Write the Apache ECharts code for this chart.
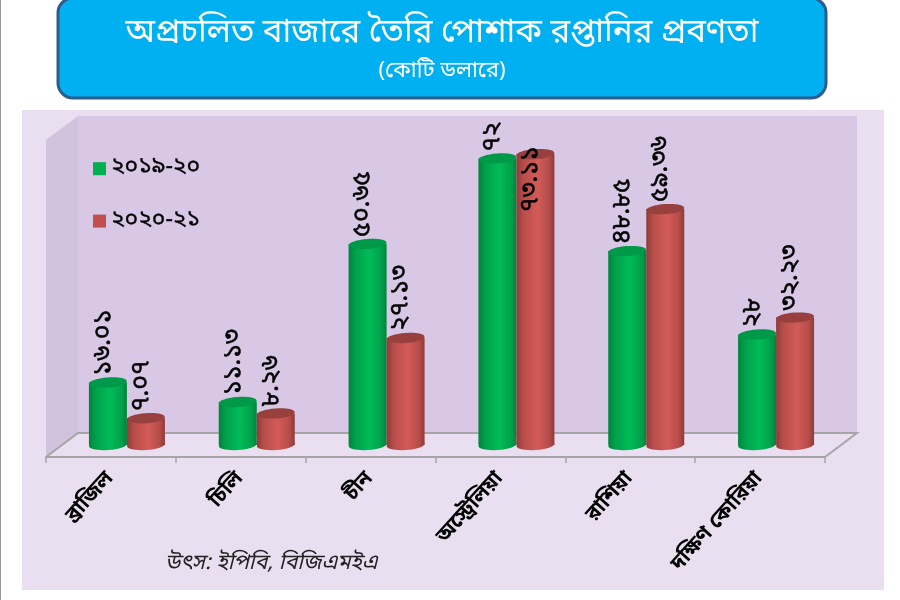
<!DOCTYPE html>
<html><head><meta charset="utf-8">
<style>html,body{margin:0;padding:0;background:#fff}#c{width:900px;height:600px}</style>
<script src="https://cdn.jsdelivr.net/npm/echarts@6/dist/echarts.min.js"></script>
</head><body><div id="c"></div>
<script>
const titleText = 'অপ্রচলিত বাজারে তৈরি পোশাক রপ্তানির প্রবণতা';
const subtitleText = '(কোটি ডলারে)';
const sourceText = 'উৎস: ইপিবি, বিজিএমইএ';
const categories = ['ব্রাজিল','চিলি','চীন','অস্ট্রেলিয়া','রাশিয়া','দক্ষিণ কোরিয়া'];
const seriesNames = ['২০১৯-২০','২০২০-২১'];
const values1920 = [16.01,11.13,50.65,72,48.85,28];
const values2021 = [7.07,8.26,27.13,73.11,59.36,32.23];
const labels1920 = ['১৬.০১','১১.১৩','৫০.৬৫','৭২','৪৮.৮৫','২৮'];
const labels2021 = ['৭.০৭','৮.২৬','২৭.১৩','৭৩.১১','৫৯.৩৬','৩২.২৩'];

const FONT = '"Noto Sans Bengali","Noto Serif Bengali","Lohit Bengali","Noto Sans",sans-serif';
const G = {l:46,r:825,t:137,b:457};
const DEPTH = {x:32,y:24};
const BAR_W = 38, RY = 5;
const chart = echarts.init(document.getElementById('c'));

function cyl(stops, topFill, labels, side){
  return function(params, api){
    const i = api.value(0), v = api.value(1);
    const c = api.coord([i, v]), b = api.coord([i, 0]);
    const dx = DEPTH.x/2, dy = DEPTH.y/2 - 1.5;
    const x = b[0] + dx + side*BAR_W/2, yb = b[1]-dy-1.5, yt = c[1]-dy;
    const grad = {type:'linear',x:0,y:0,x2:1,y2:0,colorStops:stops};
    const tilt = 0.07;
    const hi = v > 73;
    return {type:'group',children:[
      {type:'ellipse',x:x,y:yb,rotation:tilt,shape:{cx:0,cy:0,rx:BAR_W/2,ry:RY},style:{fill:grad}},
      {type:'rect',shape:{x:x-BAR_W/2,y:yt,width:BAR_W,height:yb-yt},style:{fill:grad}},
      {type:'ellipse',x:x,y:yt,rotation:tilt,shape:{cx:0,cy:0,rx:BAR_W/2,ry:RY},style:{fill:topFill}},
      {type:'text',x:x-3,y:hi?yt+58:yt-7,rotation:Math.PI/2,
       style:{text:labels[params.dataIndex],fill:'#000',stroke:'#000',lineWidth:0.5,fontFamily:FONT,fontSize:25,align:'left',verticalAlign:'middle'}}
    ]};
  };
}
const green = [{offset:0,color:'#00843C'},{offset:.18,color:'#00A14B'},{offset:.55,color:'#00BC58'},{offset:.85,color:'#00A14B'},{offset:1,color:'#00843C'}];
const red = [{offset:0,color:'#8E3B38'},{offset:.18,color:'#B74D4A'},{offset:.55,color:'#D35B58'},{offset:.85,color:'#B74D4A'},{offset:1,color:'#8E3B38'}];

chart.setOption({
  animation:false,
  backgroundColor:'#fff',
  legend:{show:true,orient:'vertical',left:88,top:152,itemWidth:13,itemHeight:13,itemGap:29,icon:'rect',
    data:seriesNames,textStyle:{fontFamily:FONT,fontSize:23,color:'#000',textBorderColor:'#000',textBorderWidth:0.4}},
  grid:{left:G.l,right:900-G.r,top:G.t,bottom:600-G.b},
  xAxis:{type:'category',data:categories,axisLine:{show:true,onZero:false,lineStyle:{color:'#A6A6A6',width:2}},
    axisTick:{show:true,length:6,lineStyle:{color:'#A6A6A6',width:1.5}},
    axisLabel:{rotate:48,margin:19,fontFamily:FONT,fontSize:21,fontWeight:'bold',color:'#000',interval:0}},
  yAxis:{type:'value',min:0,max:80,show:false},
  graphic:{elements:[
    {type:'rect',z:-10,shape:{x:0,y:0,width:1,height:600},style:{fill:'#9a9a9a'}},
    {type:'rect',z:-10,shape:{x:22,y:110,width:862,height:480},style:{fill:'#EADFF1'}},
    {type:'rect',z:-9,shape:{x:G.l+DEPTH.x,y:116,width:G.r-G.l,height:G.b-DEPTH.y-116},style:{fill:'#D8C8E6'}},
    {type:'polygon',z:-9,shape:{points:[[G.l,140],[G.l+DEPTH.x,116],[G.l+DEPTH.x,G.b-DEPTH.y],[G.l,G.b]]},style:{fill:'#D1C3DE'}},
    {type:'polyline',z:-8,shape:{points:[[G.l,G.b],[G.l+DEPTH.x,G.b-DEPTH.y],[G.r+DEPTH.x,G.b-DEPTH.y],[G.r,G.b]]},style:{stroke:'#A6A6A6',lineWidth:2,fill:null}},
    {type:'rect',z:5,shape:{x:58,y:-2,width:768,height:100,r:15},style:{fill:'#00B0F0',stroke:'#2F5C8F',lineWidth:3}},
    {type:'text',z:6,x:442,y:36,style:{text:titleText,fill:'#fff',fontFamily:FONT,fontSize:33,align:'center',verticalAlign:'middle'}},
    {type:'text',z:6,x:442,y:73,style:{text:subtitleText,fill:'#fff',fontFamily:FONT,fontSize:22,align:'center',verticalAlign:'middle'}},
    {type:'text',z:6,x:165,y:565,style:{text:sourceText,fill:'#222',fontFamily:FONT,fontSize:21.5,fontStyle:'italic',align:'left',verticalAlign:'middle'}}
  ]},
  series:[
    {name:seriesNames[0],type:'custom',itemStyle:{color:'#00B050'},data:values1920.map((v,i)=>[i,v]),encode:{x:0,y:1},renderItem:cyl(green,'#00994A',labels1920,-1)},
    {name:seriesNames[1],type:'custom',itemStyle:{color:'#C0504D'},data:values2021.map((v,i)=>[i,v]),encode:{x:0,y:1},renderItem:cyl(red,'#97403D',labels2021,1)}
  ]
});
</script></body></html>
